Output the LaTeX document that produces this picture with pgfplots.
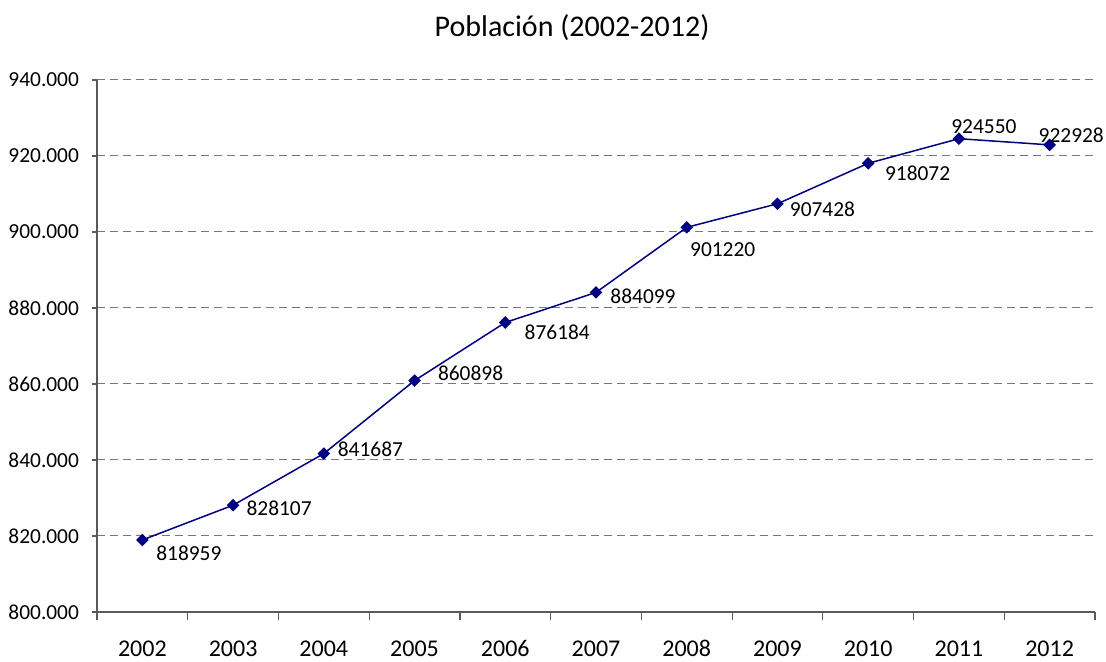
\documentclass[border=0pt]{standalone}
\usepackage{pgfplots}
\pgfplotsset{compat=1.18}
\usepackage{pgfplotstable}
\usepackage{fontspec}
\setmainfont{Carlito}
\definecolor{serie}{RGB}{0,0,128}
\definecolor{gridc}{RGB}{120,120,120}
\definecolor{axisc}{RGB}{90,90,90}
\pgfplotstableread{
x y dx dy
0 818959 23.25 -6.5
1 828107 23 -1.5
2 841687 23.3 2.3
3 860898 28 3.5
4 876184 26 -5
5 884099 23.5 -1.8
6 901220 18 -11.3
7 907428 22.5 -3
8 918072 24.7 -5
9 924550 12.5 6
10 922928 10.8 5
}\datatable
\begin{document}
\begin{tikzpicture}
\useasboundingbox (-48.5pt,-25pt) rectangle (504.5pt,306pt);
\begin{axis}[
  scale only axis,
  width=499pt, height=266pt,
  xmin=-0.5, xmax=10.5,
  ymin=800000, ymax=940000,
  scaled y ticks=false,
  axis lines=left,
  axis line style={draw=axisc, line width=0.6pt, -},
  xtick={0,...,10},
  xticklabels={2002,2003,2004,2005,2006,2007,2008,2009,2010,2011,2012},
  major x tick style={draw=none},
  minor xtick={-0.5,0.5,...,10.5},
  minor x tick style={draw=axisc, line width=0.6pt},
  minor tick length=4pt,
  tick align=outside,
  ytick={800000,820000,...,940000},
  yticklabels={800.000,820.000,840.000,860.000,880.000,900.000,920.000,940.000},
  major y tick style={draw=axisc, line width=0.6pt},
  major tick length=2.5pt,
  ymajorgrids,
  y grid style={draw=gridc, line width=0.5pt, dash pattern=on 4pt off 2.5pt},
  xticklabel style={font=\fontsize{12pt}{13pt}\selectfont, text height=8.5pt, text depth=0pt, yshift=-7.5pt},
  yticklabel style={font=\fontsize{10.7pt}{12pt}\selectfont, xshift=-3pt},
  title={Población (2002-2012)},
  title style={font=\fontsize{15pt}{17pt}\selectfont, at={(rel axis cs:0.476,1)}, anchor=base, yshift=15.5pt},
  clip=false,
  nodes near coords,
  point meta=explicit symbolic,
  visualization depends on={\thisrow{dx} \as \dx},
  visualization depends on={\thisrow{dy} \as \dy},
  every node near coord/.append style={font=\fontsize{10.7pt}{12pt}\selectfont, anchor=center, xshift=\dx pt, yshift=\dy pt, text=black},
]
\addplot[color=serie, line width=0.75pt, mark=square*, mark size=1.85pt, mark options={fill=serie, draw=serie, rotate=45}]
  table[x=x, y=y, meta=y] {\datatable};
\end{axis}
\end{tikzpicture}
\end{document}
